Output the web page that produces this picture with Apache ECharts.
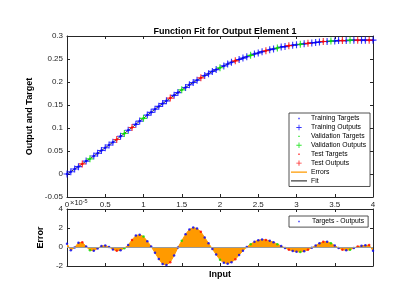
<!DOCTYPE html>
<html><head><meta charset="utf-8">
<script src="https://cdn.jsdelivr.net/npm/echarts@6/dist/echarts.min.js"></script>
<style>html,body{margin:0;padding:0;background:#fff}#c{width:416px;height:295px}</style>
</head><body><div id="c"></div>
<script>
const input = [0,0.05,0.1,0.15,0.2,0.25,0.3,0.35,0.4,0.45,0.5,0.55,0.6,0.65,0.7,0.75,0.8,0.85,0.9,0.95,
1,1.05,1.1,1.15,1.2,1.25,1.3,1.35,1.4,1.45,1.5,1.55,1.6,1.65,1.7,1.75,1.8,1.85,1.9,1.95,
2,2.05,2.1,2.15,2.2,2.25,2.3,2.35,2.4,2.45,2.5,2.55,2.6,2.65,2.7,2.75,2.8,2.85,2.9,2.95,
3,3.05,3.1,3.15,3.2,3.25,3.3,3.35,3.4,3.45,3.5,3.55,3.6,3.65,3.7,3.75,3.8,3.85,3.9,3.95,4];
const target = [0,0.005,0.011,0.016,0.022,0.028,0.033,0.039,0.045,0.051,0.057,0.063,0.069,0.075,0.082,0.088,0.095,0.101,0.108,0.115,
0.121,0.128,0.134,0.141,0.147,0.153,0.159,0.165,0.171,0.177,0.183,0.188,0.194,0.199,0.204,0.209,0.214,0.218,0.223,0.227,
0.231,0.235,0.239,0.243,0.246,0.249,0.252,0.255,0.258,0.261,0.263,0.266,0.268,0.270,0.272,0.274,0.276,0.277,0.279,0.280,
0.281,0.282,0.283,0.284,0.285,0.286,0.287,0.288,0.288,0.289,0.289,0.290,0.290,0.290,0.291,0.291,0.291,0.291,0.291,0.291,0.291];
// errors (targets - outputs), in units of 1e-5
const errorE5 = [0.35,-0.35,-0.05,0.45,0.5,0.05,-0.35,-0.4,-0.15,0.1,0.15,0.0,-0.25,-0.4,-0.35,-0.12,0.2,0.75,1.2,1.3,
1.1,0.6,0.05,-0.6,-1.25,-1.8,-1.9,-1.6,-0.9,-0.05,0.65,1.35,1.85,2.04,1.95,1.6,1.0,0.4,-0.2,-0.8,
-1.35,-1.65,-1.75,-1.6,-1.3,-0.85,-0.4,0.0,0.3,0.55,0.72,0.78,0.75,0.65,0.5,0.3,0.1,-0.1,-0.28,-0.42,
-0.5,-0.53,-0.45,-0.3,-0.08,0.15,0.4,0.55,0.55,0.4,0.15,-0.1,-0.28,-0.35,-0.3,-0.1,0.05,0.12,0.18,0.2,-0.4];
const valIdx = [6,15,20,30,40,48,55,61,69,74];
const testIdx = [4,13,17,27,35,44,52,58,63,67,72,76,79];

const C = {train:'#0000ff', val:'#00e000', test:'#ff0000', err:'#ff9a00', fit:'#404040', axis:'#262626'};
const FONT = 'Liberation Sans';
const output = target.map((t,i)=>t - errorE5[i]*1e-5);
const sub = i => testIdx.includes(i) ? 'test' : (valIdx.includes(i) ? 'val' : 'train');
function pts(arr, s){ const r=[]; input.forEach((x,i)=>{ if(sub(i)===s) r.push([x,arr[i]]); }); return r; }

const plusPath = 'path://M4.2,0L5.8,0L5.8,4.2L10,4.2L10,5.8L5.8,5.8L5.8,10L4.2,10L4.2,5.8L0,5.8L0,4.2L4.2,4.2Z';
const icDot = 'path://M0,0L0.01,0ZM18,8L17.99,8ZM8.2,3.2L9.8,3.2L9.8,4.8L8.2,4.8Z';
const icPlus = 'path://M0,0L0.01,0ZM18,8L17.99,8ZM8.5,1L9.5,1L9.5,3.5L12,3.5L12,4.5L9.5,4.5L9.5,7L8.5,7L8.5,4.5L6,4.5L6,3.5L8.5,3.5Z';
const icLine = 'path://M0,0L0.01,0ZM18,8L17.99,8ZM0,3.3L18,3.3L18,4.7L0,4.7Z';

const axisBase = {axisLine:{onZero:false,lineStyle:{color:C.axis,width:1}}, axisTick:{inside:true,length:3,lineStyle:{color:C.axis}}, splitLine:{show:false},
  axisLabel:{color:C.axis,fontSize:8,fontFamily:FONT,margin:4}};
function ax(o){ return Object.assign({}, JSON.parse(JSON.stringify(axisBase)), o); }

const option = {
  animation:false,
  backgroundColor:'#fff',
  title:{text:'Function Fit for Output Element 1', left:220, top:22, textAlign:'center',
    textStyle:{fontSize:9,fontWeight:'bold',color:'#000',fontFamily:FONT}},
  grid:[{left:67,top:36,width:306,height:161},{left:67,top:209,width:306,height:57}],
  xAxis:[
    ax({type:'value',gridIndex:0,min:0,max:4,interval:0.5,position:'bottom'}),
    ax({type:'value',gridIndex:1,min:0,max:4,interval:0.5,position:'bottom',axisLabel:{show:false},
      name:'Input',nameLocation:'middle',nameGap:4,nameTextStyle:{fontSize:9,fontWeight:'bold',color:'#000',fontFamily:FONT,verticalAlign:'top'}}),
    ax({type:'value',gridIndex:0,min:0,max:4,interval:0.5,position:'top',axisLabel:{show:false}}),
    ax({type:'value',gridIndex:1,min:0,max:4,interval:0.5,position:'top',axisLabel:{show:false}})
  ],
  yAxis:[
    ax({type:'value',gridIndex:0,min:-0.05,max:0.3,interval:0.05,position:'left',
      name:'Output and Target',nameLocation:'middle',nameGap:23,nameTextStyle:{fontSize:9,fontWeight:'bold',color:'#000',fontFamily:FONT}}),
    ax({type:'value',gridIndex:1,min:-2,max:4,interval:2,position:'left',
      name:'Error',nameLocation:'middle',nameGap:13,nameTextStyle:{fontSize:9,fontWeight:'bold',color:'#000',fontFamily:FONT}}),
    ax({type:'value',gridIndex:0,min:-0.05,max:0.3,interval:0.05,position:'right',axisLabel:{show:false}}),
    ax({type:'value',gridIndex:1,min:-2,max:4,interval:2,position:'right',axisLabel:{show:false}})
  ],
  legend:[
    {data:[
      {name:'Training Targets',icon:icDot},{name:'Training Outputs',icon:icPlus},
      {name:'Validation Targets',icon:icDot},{name:'Validation Outputs',icon:icPlus},
      {name:'Test Targets',icon:icDot},{name:'Test Outputs',icon:icPlus},
      {name:'Errors',icon:icLine},{name:'Fit',icon:icLine}],
     orient:'vertical',left:289,top:113,itemWidth:16,itemHeight:7.5,itemGap:1.8,padding:[2,4,2,2],
     backgroundColor:'#fff',borderColor:'#262626',borderWidth:0.8,borderRadius:0,selectedMode:false,
     textStyle:{fontSize:6.8,color:'#000',fontFamily:FONT,padding:[0,0,0,-1]}},
    {data:[{name:'Targets - Outputs',icon:icDot}],
     orient:'vertical',left:289,top:216,itemWidth:16,itemHeight:7.5,padding:[2,4,2,2],
     backgroundColor:'#fff',borderColor:'#262626',borderWidth:0.8,borderRadius:0,selectedMode:false,
     textStyle:{fontSize:6.8,color:'#000',fontFamily:FONT}}
  ],
  graphic:[{type:'text',left:70,top:198,silent:true,
    style:{text:'×10{s|-5}',rich:{s:{fontSize:5.5,verticalAlign:'top',padding:[0,0,3,0]}},fontSize:7.5,fill:C.axis,fontFamily:FONT}}],
  series:[
    {name:'Fit',type:'line',xAxisIndex:0,yAxisIndex:0,data:input.map((x,i)=>[x,output[i]]),showSymbol:false,
      lineStyle:{color:C.fit,width:1},itemStyle:{color:C.fit},z:1},
    {name:'Training Targets',type:'scatter',xAxisIndex:0,yAxisIndex:0,data:pts(target,'train'),symbol:'circle',symbolSize:2.5,itemStyle:{color:C.train},z:2},
    {name:'Training Outputs',type:'scatter',xAxisIndex:0,yAxisIndex:0,data:pts(output,'train'),symbol:plusPath,symbolSize:7,itemStyle:{color:C.train},z:3},
    {name:'Validation Targets',type:'scatter',xAxisIndex:0,yAxisIndex:0,data:pts(target,'val'),symbol:'circle',symbolSize:2.5,itemStyle:{color:C.val},z:4},
    {name:'Validation Outputs',type:'scatter',xAxisIndex:0,yAxisIndex:0,data:pts(output,'val'),symbol:plusPath,symbolSize:7,itemStyle:{color:C.val},z:5},
    {name:'Test Targets',type:'scatter',xAxisIndex:0,yAxisIndex:0,data:pts(target,'test'),symbol:'circle',symbolSize:2.5,itemStyle:{color:C.test},z:4},
    {name:'Test Outputs',type:'scatter',xAxisIndex:0,yAxisIndex:0,data:pts(output,'test'),symbol:plusPath,symbolSize:7,itemStyle:{color:C.test},z:5},
    {name:'Errors',type:'line',xAxisIndex:1,yAxisIndex:1,data:input.map((x,i)=>[x,errorE5[i]]),showSymbol:false,
      lineStyle:{color:C.err,width:1},itemStyle:{color:C.err},areaStyle:{color:C.err,opacity:1,origin:0},z:1,
      markLine:{silent:true,symbol:'none',label:{show:false},lineStyle:{color:'#9a9a9a',width:1.2,type:'solid'},data:[{yAxis:0}]}},
    {name:'Targets - Outputs',type:'scatter',xAxisIndex:1,yAxisIndex:1,data:pts(errorE5,'train'),symbol:'circle',symbolSize:2.5,itemStyle:{color:C.train},z:3},
    {name:'Val Errors',type:'scatter',xAxisIndex:1,yAxisIndex:1,data:pts(errorE5,'val'),symbol:'circle',symbolSize:2.5,itemStyle:{color:C.val},z:3},
    {name:'Test Errors',type:'scatter',xAxisIndex:1,yAxisIndex:1,data:pts(errorE5,'test'),symbol:'circle',symbolSize:2.5,itemStyle:{color:C.test},z:3}
  ]
};
const chart = echarts.init(document.getElementById('c'), null, {renderer:'canvas'});
chart.setOption(option);
</script></body></html>
